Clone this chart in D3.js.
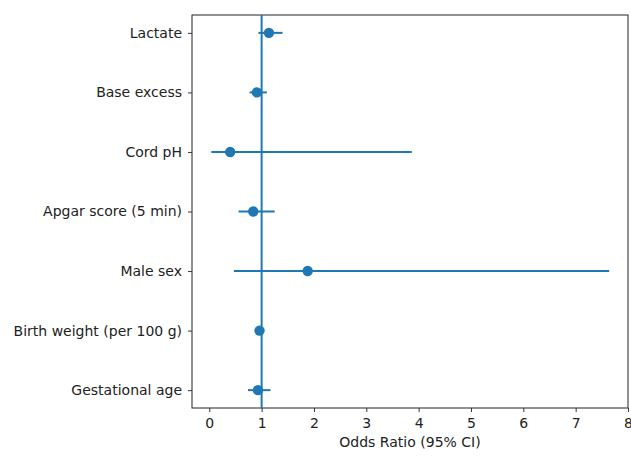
<!DOCTYPE html>
<html>
<head>
<meta charset="utf-8">
<script src="https://cdn.jsdelivr.net/npm/d3@7"></script>
<style>
  body { margin: 0; background: #fff; }
  svg { display: block; font-family: "DejaVu Sans", sans-serif; }
</style>
</head>
<body>
<div id="chart"></div>
<script>
// rows listed bottom to top
const labels = ["Gestational age", "Birth weight (per 100 g)", "Male sex", "Apgar score (5 min)", "Cord pH", "Base excess", "Lactate"];
const oddsRatio = [0.93, 0.96, 1.88, 0.84, 0.40, 0.91, 1.14];
const ciLow = [0.74, 0.94, 0.47, 0.56, 0.04, 0.77, 0.94];
const ciHigh = [1.17, 0.98, 7.64, 1.25, 3.87, 1.10, 1.40];
const xTicks = [0, 1, 2, 3, 4, 5, 6, 7, 8];

const width = 631, height = 457;
const margin = { top: 15, right: 3, bottom: 49, left: 192 };
const color = "#1f77b4";
const font = "DejaVu Sans, sans-serif";

const svg = d3.select("#chart").append("svg")
  .attr("width", width)
  .attr("height", height);

const x = d3.scaleLinear().domain([-0.33, 8.0]).range([margin.left, width - margin.right]);
const y = d3.scaleLinear().domain([-0.3, 6.3]).range([height - margin.bottom, margin.top]);

const rows = labels.map((label, i) => ({ label, or: oddsRatio[i], lo: ciLow[i], hi: ciHigh[i], pos: i }));

// axes
const xAxis = svg.append("g")
  .attr("transform", `translate(0,${height - margin.bottom})`)
  .call(d3.axisBottom(x).tickValues(xTicks).tickFormat(d3.format("d")).tickSize(4).tickPadding(6));

const yAxis = svg.append("g")
  .attr("transform", `translate(${margin.left},0)`)
  .call(d3.axisLeft(y).tickValues(rows.map(d => d.pos)).tickFormat(i => labels[i]).tickSize(4).tickPadding(6));

[xAxis, yAxis].forEach(g => {
  g.attr("font-family", font).attr("font-size", 14);
  g.select(".domain").remove();
  g.selectAll("line").attr("stroke", "#222").attr("stroke-width", 0.9);
  g.selectAll("text").attr("fill", "#222");
});

// frame
svg.append("rect")
  .attr("x", margin.left)
  .attr("y", margin.top)
  .attr("width", width - margin.right - margin.left)
  .attr("height", height - margin.bottom - margin.top)
  .attr("fill", "none")
  .attr("stroke", "#222")
  .attr("stroke-width", 1);

// reference line at OR = 1
svg.append("line")
  .attr("x1", x(1)).attr("x2", x(1))
  .attr("y1", margin.top).attr("y2", height - margin.bottom)
  .attr("stroke", color)
  .attr("stroke-width", 2);

// confidence intervals
svg.append("g")
  .selectAll("line")
  .data(rows)
  .join("line")
  .attr("x1", d => x(d.lo))
  .attr("x2", d => x(d.hi))
  .attr("y1", d => y(d.pos))
  .attr("y2", d => y(d.pos))
  .attr("stroke", color)
  .attr("stroke-width", 2);

// point estimates
svg.append("g")
  .selectAll("circle")
  .data(rows)
  .join("circle")
  .attr("cx", d => x(d.or))
  .attr("cy", d => y(d.pos))
  .attr("r", 5.2)
  .attr("fill", color);

svg.append("text")
  .attr("x", (margin.left + width - margin.right) / 2)
  .attr("y", 447)
  .attr("text-anchor", "middle")
  .attr("font-family", font)
  .attr("font-size", 14)
  .attr("fill", "#222")
  .text("Odds Ratio (95% CI)");
</script>
</body>
</html>
